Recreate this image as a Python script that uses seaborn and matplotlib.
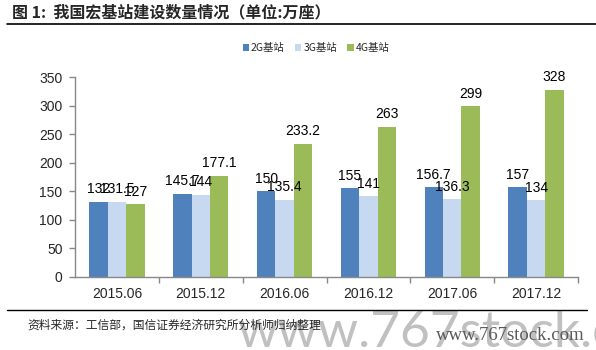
import matplotlib
matplotlib.use("Agg")
import matplotlib.pyplot as plt
import seaborn as sns
import pandas as pd
from matplotlib.lines import Line2D
from matplotlib.patches import Patch

periods = ["2015.06", "2015.12", "2016.06", "2016.12", "2017.06", "2017.12"]
series_names = ["2G基站", "3G基站", "4G基站"]
values_2g = [132, 145.7, 150, 155, 156.7, 157]
values_3g = [131.5, 144, 135.4, 141, 136.3, 134]
values_4g = [127, 177.1, 233.2, 263, 299, 328]
yticks = [0, 50, 100, 150, 200, 250, 300, 350]
colors = ["#4F81BD", "#C6D9F0", "#9BBB59"]

rows = []
for name, vals in zip(series_names, [values_2g, values_3g, values_4g]):
    for p, v in zip(periods, vals):
        rows.append({"period": p, "series": name, "value": v})
df = pd.DataFrame(rows)

sns.set_theme(style="white")
plt.rcParams["font.family"] = ["Liberation Sans", "Noto Sans CJK SC", "DejaVu Sans"]

fig = plt.figure(figsize=(5.96, 3.5), dpi=100)
ax = fig.add_axes([75 / 596, 1 - 277 / 350, (578 - 75) / 596, 200 / 350])

sns.barplot(data=df, x="period", y="value", hue="series", order=periods,
            hue_order=series_names, palette=colors, width=0.66,
            linewidth=0, saturation=1, ax=ax, legend=False)

fmt = lambda v: f"{v:g}"
for cont in ax.containers:
    ax.bar_label(cont, labels=[fmt(b.get_height()) for b in cont],
                 padding=4, fontsize=10, color="black")

ax.set_ylim(0, 350)
ax.set_xlim(-0.5, len(periods) - 0.5)
ax.set_yticks(yticks)
ax.set_xlabel("")
ax.set_ylabel("")
for s in ["top", "right"]:
    ax.spines[s].set_visible(False)
for s in ["left", "bottom"]:
    ax.spines[s].set_color("#888888")
    ax.spines[s].set_linewidth(1)
ax.tick_params(axis="y", which="major", direction="out", length=4, width=1,
               color="#888888", labelsize=10, pad=5, left=True)
ax.tick_params(axis="x", which="major", length=0, labelsize=10, pad=7)
ax.set_xticks([i + 0.5 for i in range(len(periods))], minor=True)
ax.tick_params(axis="x", which="minor", direction="out", length=4, width=1,
               color="#888888", bottom=True)

# legend
handles = [Patch(facecolor=c, edgecolor="none") for c in colors]
fig.legend(handles, series_names, loc="center", bbox_to_anchor=(316 / 596, 1 - 48 / 350),
           ncol=3, frameon=False, handlelength=0.6, handleheight=0.6,
           handletextpad=0.2, columnspacing=1.0,
           prop={"family": ["Noto Sans CJK SC"], "size": 7.5})

# title and rules
fig.text(12 / 596, 1 - 12 / 350, "图 1:  我国宏基站建设数量情况（单位:万座）",
         fontsize=11.5, fontweight="bold", va="center", ha="left",
         family=["Noto Sans CJK SC", "DejaVu Sans"])
fig.add_artist(Line2D([7 / 596, 1.0], [1 - 24 / 350] * 2, color="black", lw=1.2,
                      transform=fig.transFigure))
fig.add_artist(Line2D([7 / 596, 587 / 596], [1 - 310 / 350] * 2, color="black", lw=1.0,
                      transform=fig.transFigure))

# site marks (drawn beneath the source note)
fig.text(237 / 596, 1 - 347 / 350, "www.767stock.co", fontsize=37, color="#c0c0c0",
         va="baseline", ha="left", family=["Lato", "Liberation Sans"],
         zorder=1)
fig.text(585 / 596, 1 - 340 / 350, "www.767stock.com", fontsize=13.5, color="#5a5a5a",
         va="baseline", ha="right", family=["Liberation Serif"], zorder=2)

fig.text(27 / 596, 1 - 325 / 350, "资料来源：工信部，国信证券经济研究所分析师归纳整理",
         fontsize=8.5, va="center", ha="left", family=["Noto Sans CJK SC", "DejaVu Sans"],
         zorder=3)

fig.savefig("out.png", dpi=100)
